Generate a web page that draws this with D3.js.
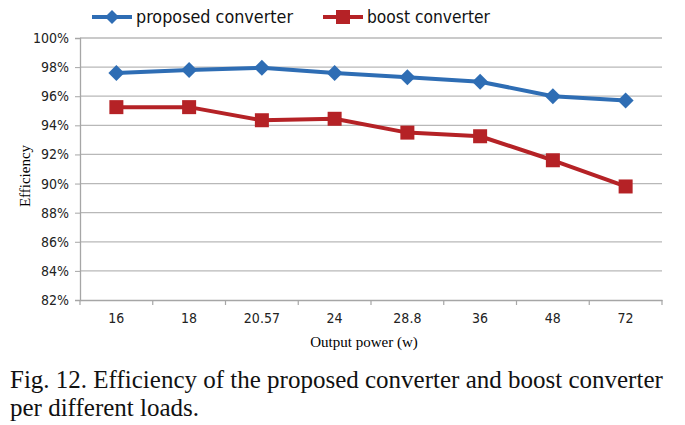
<!DOCTYPE html>
<html><head><meta charset="utf-8">
<script src="https://cdn.jsdelivr.net/npm/d3@7"></script>
<style>body{margin:0;background:#fff}svg{display:block}</style>
</head><body>
<svg id="c" width="685" height="425"></svg>
<script>
const categories = ["16","18","20.57","24","28.8","36","48","72"];
const proposed = [97.6, 97.8, 97.95, 97.6, 97.3, 97.0, 96.0, 95.7];
const boost = [95.25, 95.25, 94.35, 94.45, 93.5, 93.25, 91.6, 89.8];
const yTicks = [82,84,86,88,90,92,94,96,98,100];
const seriesNames = ["proposed converter","boost converter"];
const colors = ["#2e6db4","#b52226"];

const svg = d3.select("#c");
const x = d3.scaleBand().domain(categories).range([80, 662]);
const y = d3.scaleLinear().domain([82,100]).range([300, 38]);
const sans = "'DejaVu Sans Condensed','Liberation Sans Narrow','Open Sans',sans-serif";
const serif = "'Liberation Serif','Times New Roman',serif";

// grid
svg.append("g").selectAll("line").data(yTicks.filter(d=>d>82)).join("line")
  .attr("x1",80).attr("x2",662).attr("y1",d=>y(d)).attr("y2",d=>y(d))
  .attr("stroke","#b8b8b8").attr("stroke-width",1.3);

// y axis
const ya = svg.append("g").attr("transform","translate(80,0)")
  .call(d3.axisLeft(y).tickValues(yTicks).tickFormat(d=>d+"%").tickSize(5).tickPadding(6));
ya.select(".domain").attr("stroke","#a6a6a6").attr("stroke-width",1.3);
ya.selectAll(".tick line").attr("stroke","#a6a6a6");
ya.selectAll("text").attr("font-family",sans).attr("font-size",14).attr("fill","#222");

// x axis
const xa = svg.append("g").attr("transform","translate(0,300)")
  .call(d3.axisBottom(x).tickSize(0).tickPadding(13));
xa.select(".domain").attr("stroke","#a6a6a6").attr("stroke-width",1.3);
xa.selectAll("text").attr("font-family",sans).attr("font-size",14).attr("fill","#222");
const bounds = categories.map(c=>x(c)).concat([662]);
svg.append("g").selectAll("line").data(bounds).join("line")
  .attr("x1",d=>d).attr("x2",d=>d).attr("y1",300).attr("y2",305)
  .attr("stroke","#a6a6a6").attr("stroke-width",1.2);

const cx = d => x(d) + x.bandwidth()/2;
const line = d3.line().x((d,i)=>cx(categories[i])).y(d=>y(d));

function diamond(g, px, py, s, col){
  g.append("path").attr("d",`M${px},${py-s}L${px+s},${py}L${px},${py+s}L${px-s},${py}Z`).attr("fill",col);
}
function square(g, px, py, s, col){
  g.append("rect").attr("x",px-s).attr("y",py-s).attr("width",2*s).attr("height",2*s).attr("fill",col);
}

// series
[proposed, boost].forEach((vals, k)=>{
  svg.append("path").datum(vals).attr("d",line).attr("fill","none")
    .attr("stroke",colors[k]).attr("stroke-width",4).attr("stroke-linejoin","round");
  const g = svg.append("g");
  vals.forEach((v,i)=>{
    if(k===0) diamond(g, cx(categories[i]), y(v), 8, colors[k]);
    else square(g, cx(categories[i]), y(v), 7, colors[k]);
  });
});

// legend
const lg = svg.append("g");
[[92,"proposed converter",157],[323,"boost converter",123]].forEach(([lx,name,w],k)=>{
  lg.append("line").attr("x1",lx).attr("x2",lx+40).attr("y1",17).attr("y2",17)
    .attr("stroke",colors[k]).attr("stroke-width",4);
  if(k===0) diamond(lg, lx+20, 17, 7, colors[k]); else square(lg, lx+20, 17, 7, colors[k]);
  lg.append("text").attr("x",lx+44).attr("y",23).text(seriesNames[k])
    .attr("font-family",sans).attr("font-size",18).attr("fill","#111")
    .attr("textLength",w).attr("lengthAdjust","spacingAndGlyphs");
});

// axis titles
svg.append("text").attr("transform","translate(30,176) rotate(-90)").attr("text-anchor","middle")
  .attr("font-family",serif).attr("font-size",15).text("Efficiency");
svg.append("text").attr("x",364).attr("y",347).attr("text-anchor","middle")
  .attr("font-family",serif).attr("font-size",15).text("Output power (w)");

// caption
const cap = svg.append("text").attr("font-family",serif).attr("font-size",25).attr("fill","#111");
cap.append("tspan").attr("x",10).attr("y",388).text("Fig. 12. Efficiency of the proposed converter and boost converter");
cap.append("tspan").attr("x",10).attr("y",416).text("per different loads.");
</script>
</body></html>
